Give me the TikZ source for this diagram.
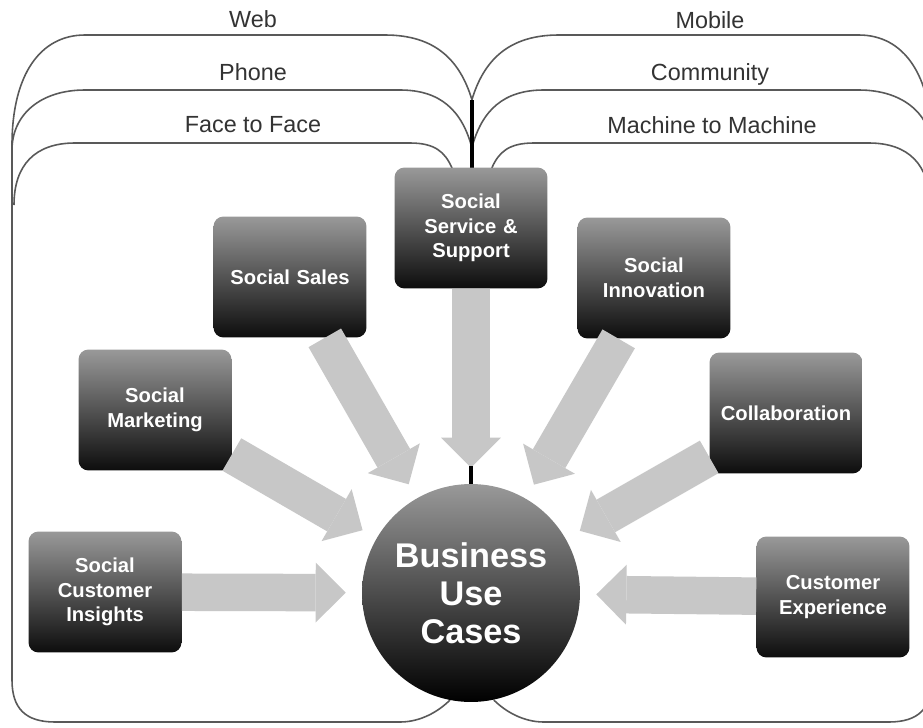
\documentclass[tikz,border=0pt]{standalone}
\usepackage{fontspec}
\setmainfont{Liberation Sans}
\usetikzlibrary{arrows.meta}

\begin{document}
\begin{tikzpicture}[x=0.02cm, y=-0.02cm,
  chan/.style={draw=black!65, line width=0.9pt},
  stem/.style={draw=black, line width=2.4pt},
  chanlabel/.style={anchor=base, text=black!80, font=\fontsize{13.3}{16}\selectfont},
  usecase/.style={rectangle, rounded corners=0.2cm, minimum width=3.06cm, minimum height=2.42cm,
    text width=2.7cm, align=center, top color=black!40, bottom color=black!95, text=white,
    font=\bfseries\fontsize{11.5}{14}\selectfont},
  hub/.style={circle, minimum size=4.36cm, inner sep=0pt, top color=black!40, bottom color=black,
    text=white, align=center, font=\bfseries\fontsize{19.5}{21.5}\selectfont},
  flowarrow/.style={black!22, line width=0.75cm, shorten >=0.32cm,
    -{Triangle[width=1.2cm, length=0.6cm, line width=0pt]}}]
  \useasboundingbox (0,0) rectangle (923,727);
  \fill[white] (0,0) rectangle (923,727);
  \clip (0,0) rectangle (923,727);

  % channel outlines, left half and its mirror
  \foreach \side in {1,-1} {
    \begin{scope}[xshift=9.44cm, xscale=\side, xshift=-9.44cm]
      \draw[chan] (472,100) .. controls (460,60) and (435,35) .. (385,35) -- (85,35)
        .. controls (40,35) and (12,75) .. (12,145) -- (12,680)
        .. controls (12,708) and (25,722) .. (55,722) -- (400,722)
        .. controls (420,722) and (438,712) .. (450,700);
      \draw[chan] (472,148) .. controls (462,110) and (440,90) .. (400,90) -- (85,90)
        .. controls (40,90) and (12,115) .. (12,150);
      \draw[chan] (452,168) .. controls (445,152) and (435,143) .. (410,143) -- (75,143)
        .. controls (35,143) and (14,165) .. (14,205);
    \end{scope}
  }
  \draw[stem] (472,100) -- (472,168);

  % channel names
  \node[chanlabel] (webl) at (253,27) {Web};
  \node[chanlabel] (phonel) at (253,80) {Phone};
  \node[chanlabel] (facel) at (253,132) {Face to Face};
  \node[chanlabel] (mobilel) at (710,28) {Mobile};
  \node[chanlabel] (communityl) at (710,80) {Community};
  \node[chanlabel] (m2ml) at (712,133) {Machine to Machine};

  % use cases
  \node[usecase] (svc) at (471,228) {Social\\Service \&\\Support};
  \node[usecase] (sales) at (290,277) {Social Sales};
  \node[usecase] (innov) at (654,278) {Social\\Innovation};
  \node[usecase] (mkt) at (155,410) {Social\\Marketing};
  \node[usecase] (collab) at (786,413) {Collaboration};
  \node[usecase] (insight) at (105,592) {Social\\Customer\\Insights};
  \node[usecase] (cx) at (833,597) {Customer\\Experience};

  % hub
  \node[hub] (buc) at (471,593) {Business\\Use\\Cases};

  % arrows into the hub
  \foreach \uc in {svc, sales, innov, mkt, collab, insight, cx}
    \draw[flowarrow] (\uc) -- (buc);
  \coordinate (stemend) at (471,466);
  \draw[stem] (stemend) -- (buc.north);
\end{tikzpicture}
\end{document}
